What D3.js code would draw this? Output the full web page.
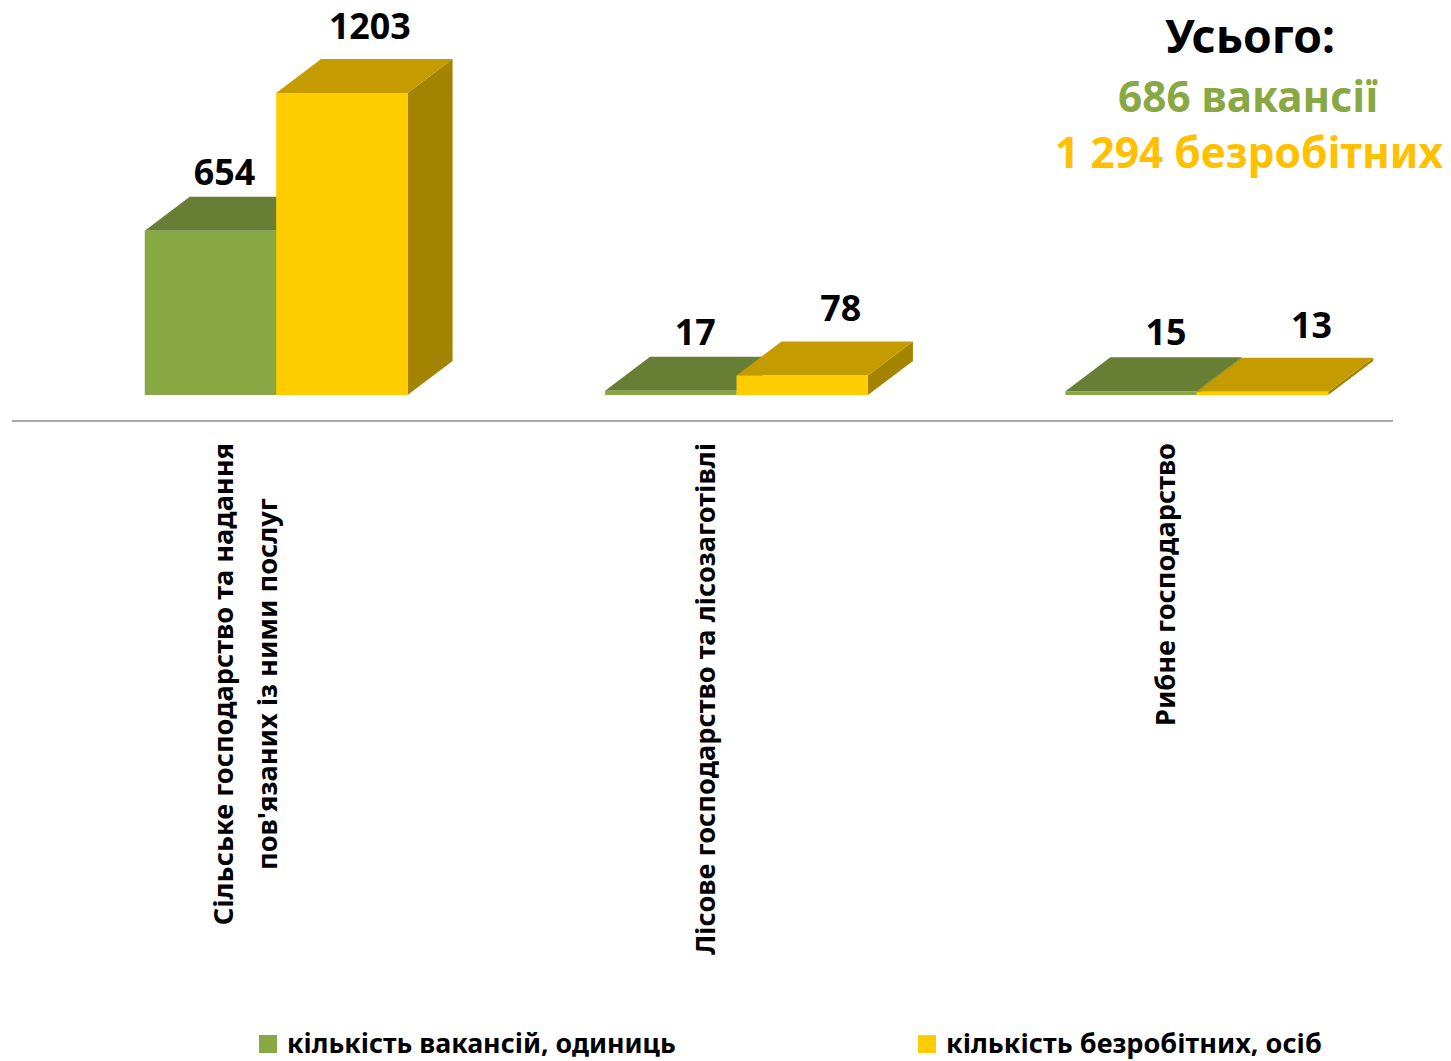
<!DOCTYPE html>
<html><head><meta charset="utf-8">
<script src="https://cdn.jsdelivr.net/npm/d3@7"></script>
<style>body{margin:0;background:#fff}</style>
</head><body>
<svg id="c" width="1451" height="1061"></svg>
<script>
// ---- data ----
const categories = [
  ["Сільське господарство та надання", "пов'язаних із ними послуг"],
  ["Лісове господарство та лісозаготівлі"],
  ["Рибне господарство"]
];
const seriesNames = ["кількість вакансій, одиниць", "кількість безробітних, осіб"];
const vacancies = [654, 17, 15];
const unemployed = [1203, 78, 13];
const totalTitle = "Усього:";
const totalVacancies = "686 вакансії";
const totalUnemployed = "1 294 безробітних";

// ---- style ----
const FONT = "'Noto Sans', 'Open Sans', sans-serif";
const colors = [
  {front: "#88A843", top: "#687E35", side: "#5A6E2C"},
  {front: "#FFCC00", top: "#C49C00", side: "#A38300"}
];
const dx = 45, dy = 34;

const svg = d3.select("#c");
const series = [vacancies, unemployed];

const x0 = d3.scaleBand().domain(d3.range(categories.length))
  .range([46, 1427]).paddingInner(0.429).paddingOuter(0.2145);
const x1 = d3.scaleBand().domain([0, 1]).range([0, x0.bandwidth()]);
const y = d3.scaleLinear().domain([0, 1400]).range([395, 395 - 1400 * 0.251]);

function fit(sel, target) {
  const w = sel.node().getComputedTextLength();
  const fs = parseFloat(sel.attr("font-size"));
  const nfs = fs * target / w;
  sel.attr("font-size", nfs);
  return nfs;
}

// axis floor line
const axisShift = -34;
svg.append("line")
  .attr("x1", x0.range()[0] + axisShift).attr("x2", x0.range()[1] + axisShift)
  .attr("y1", 421).attr("y2", 421)
  .attr("stroke", "#8c8c8c").attr("stroke-width", 1.5);

// bars
const gBars = svg.append("g");
categories.forEach((c, i) => {
  series.forEach((vals, s) => {
    const v = vals[i];
    const xl = x0(i) + x1(s), xr = xl + x1.bandwidth();
    const yt = y(v), yb = y(0);
    const col = colors[s];
    const g = gBars.append("g");
    g.append("polygon")
      .attr("points", [[xr, yb], [xr + dx, yb - dy], [xr + dx, yt - dy], [xr, yt]].map(p => p.join(",")).join(" "))
      .attr("fill", col.side);
    g.append("polygon")
      .attr("points", [[xl, yt], [xl + dx, yt - dy], [xr + dx, yt - dy], [xr, yt]].map(p => p.join(",")).join(" "))
      .attr("fill", col.top);
    g.append("rect")
      .attr("x", xl).attr("y", Math.min(yt, yb - 1.5)).attr("width", xr - xl)
      .attr("height", Math.max(yb - yt, 1.5))
      .attr("fill", col.front);
  });
});

// value labels
const gLabels = svg.append("g");
let valueFs = null;
categories.forEach((c, i) => {
  series.forEach((vals, s) => {
    const v = vals[i];
    const xl = x0(i) + x1(s);
    const t = gLabels.append("text")
      .attr("x", xl + x1.bandwidth() / 2 + (s ? 28 : 14) + 10.5 * i)
      .attr("y", y(v) - dy - (s ? 20 : 12))
      .attr("text-anchor", "middle")
      .attr("font-family", FONT).attr("font-weight", "bold")
      .attr("font-size", 35).attr("fill", "#000")
      .text(v);
    if (v === 1203) valueFs = fit(t, 82);
  });
});
gLabels.selectAll("text").attr("font-size", valueFs);

// category labels (rotated)
const probe = svg.append("text").attr("font-family", FONT).attr("font-weight", "bold")
  .attr("font-size", 26).text(categories[1][0]);
const catFs = fit(probe, 512);
probe.remove();
categories.forEach((lines, i) => {
  const cx = x0(i) + x0.bandwidth() / 2 - 31;
  const texts = [];
  lines.forEach((ln, k) => {
    const lx = cx + (k - (lines.length - 1) / 2) * 44;
    const t = svg.append("text")
      .attr("text-anchor", "middle")
      .attr("dy", "0.35em")
      .attr("font-family", FONT).attr("font-weight", "bold")
      .attr("font-size", catFs).attr("fill", "#000")
      .text(ln);
    texts.push({t, lx});
  });
  const maxW = d3.max(texts, d => d.t.node().getComputedTextLength());
  const cy = 443 + maxW / 2;
  texts.forEach(d => d.t.attr("transform", `translate(${d.lx},${cy}) rotate(-90)`));
});

// totals
const t1 = svg.append("text").attr("x", 1250).attr("y", 53).attr("text-anchor", "middle")
  .attr("font-family", FONT).attr("font-weight", "bold").attr("font-size", 48)
  .attr("fill", "#000").text(totalTitle);
fit(t1, 170);
const t2 = svg.append("text").attr("x", 1248).attr("y", 112).attr("text-anchor", "middle")
  .attr("font-family", FONT).attr("font-weight", "bold").attr("font-size", 44)
  .attr("fill", "#88A843").text(totalVacancies);
fit(t2, 260);
const t3 = svg.append("text").attr("x", 1249).attr("y", 168).attr("text-anchor", "middle")
  .attr("font-family", FONT).attr("font-weight", "bold").attr("font-size", 44)
  .attr("fill", "#FFC000").text(totalUnemployed);
fit(t3, 388);

// legend
const legendX = [259, 918];
const legendW = [389, 376];
seriesNames.forEach((name, s) => {
  svg.append("rect").attr("x", legendX[s]).attr("y", 1035).attr("width", 18).attr("height", 18)
    .attr("fill", colors[s].front);
  const t = svg.append("text").attr("x", legendX[s] + 28).attr("y", 1053)
    .attr("font-family", FONT).attr("font-weight", "bold").attr("font-size", 26)
    .attr("fill", "#000").text(name);
  fit(t, legendW[s]);
});
</script>
</body></html>
